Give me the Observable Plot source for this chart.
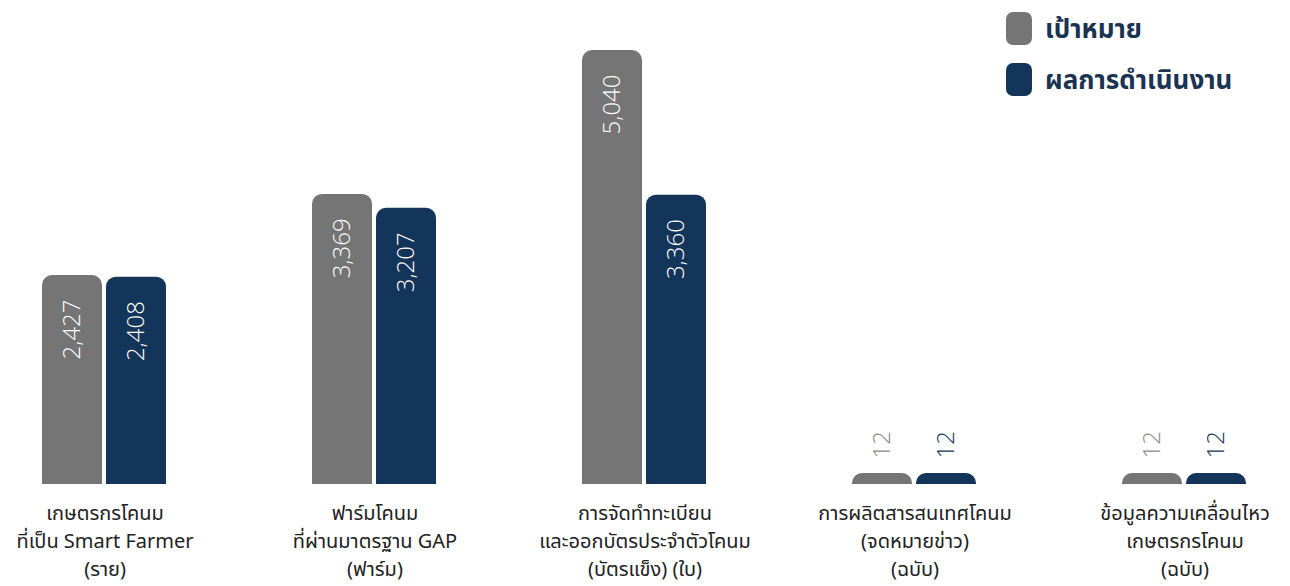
<!DOCTYPE html>
<html><head><meta charset="utf-8">
<script src="https://cdn.jsdelivr.net/npm/d3@7"></script>
<script src="https://cdn.jsdelivr.net/npm/@observablehq/plot@0.6"></script>
<style>
body{margin:0;background:#fff;}
#wrap{position:relative;width:1290px;height:586px;overflow:hidden;}
.lg{position:absolute;left:1006px;display:flex;align-items:center;font-family:"Noto Sans Thai","Noto Sans",sans-serif;font-weight:700;font-size:26px;color:#1b3352;white-space:nowrap;}
.lg .sw{width:26px;height:33px;border-radius:7px;margin-right:13px;}
.lg span{position:relative;top:2px;}
</style></head><body><div id="wrap"></div>
<script>
const categories = [
  "เกษตรกรโคนม\nที่เป็น Smart Farmer\n(ราย)",
  "ฟาร์มโคนม\nที่ผ่านมาตรฐาน GAP\n(ฟาร์ม)",
  "การจัดทำทะเบียน\nและออกบัตรประจำตัวโคนม\n(บัตรแข็ง) (ใบ)",
  "การผลิตสารสนเทศโคนม\n(จดหมายข่าว)\n(ฉบับ)",
  "ข้อมูลความเคลื่อนไหว\nเกษตรกรโคนม\n(ฉบับ)"
];
const series = ["เป้าหมาย", "ผลการดำเนินงาน"];
const targetValues = [2427, 3369, 5040, 12, 12];
const actualValues = [2408, 3207, 3360, 12, 12];
const colors = ["#757575", "#14355A"];
const smallLabelColors = ["#8c8c8c", "#14355A"];

const data = categories.flatMap((c, i) => [
  {category: c, series: series[0], value: targetValues[i]},
  {category: c, series: series[1], value: actualValues[i]}
]);

const minBarPx = 11, radius = 10;
function roundTop(index, scales, values, dims, ctx, next) {
  const g = next(index, scales, values, dims, ctx);
  for (const r of Array.from(g.querySelectorAll("rect"))) {
    const x = +r.getAttribute("x"), y = +r.getAttribute("y"),
          w = +r.getAttribute("width"), h = +r.getAttribute("height");
    const hh = Math.max(h, minBarPx), yy = y + h - hh, rr = Math.min(radius, hh, w / 2);
    const p = document.createElementNS("http://www.w3.org/2000/svg", "path");
    p.setAttribute("d", `M${x},${yy + hh}V${yy + rr}A${rr},${rr} 0 0 1 ${x + rr},${yy}H${x + w - rr}A${rr},${rr} 0 0 1 ${x + w},${yy + rr}V${yy + hh}Z`);
    if (r.hasAttribute("fill")) p.setAttribute("fill", r.getAttribute("fill"));
    r.replaceWith(p);
  }
  return g;
}

const fmt = d3.format(",");
const threshold = 500;
const valueFont = "'Open Sans', Roboto, sans-serif";

const chart = Plot.plot({
  width: 1290, height: 586,
  marginTop: 50, marginBottom: 102, marginLeft: 0, marginRight: 2,
  style: {fontFamily: "'Noto Sans Thai','Noto Sans',sans-serif", background: "white", color: "#222"},
  fx: {domain: categories, paddingInner: 0.5, paddingOuter: 0.1308, label: null},
  x: {domain: series, paddingInner: 0.06, paddingOuter: 0.07, axis: null},
  y: {domain: [0, 5040], axis: null},
  color: {domain: series, range: colors},
  marks: [
    Plot.barY(data, {fx: "category", x: "series", y: "value", fill: "series", render: roundTop}),
    Plot.text(data.filter(d => d.value >= threshold), {
      fx: "category", x: "series", y: "value", text: d => fmt(d.value),
      rotate: -90, textAnchor: "end", dy: 24, fill: "white",
      fontSize: 24, fontWeight: 300, fontFamily: valueFont
    }),
    ...series.map((s, k) => Plot.text(data.filter(d => d.value < threshold && d.series === s), {
      fx: "category", x: "series", y: "value", text: d => fmt(d.value),
      rotate: -90, textAnchor: "start", dy: -25, fill: smallLabelColors[k],
      fontSize: 24, fontWeight: 300, fontFamily: valueFont
    })),
    Plot.axisFx({anchor: "bottom", tickSize: 0, tickPadding: 16, fontSize: 20, lineHeight: 1.4, label: null, fill: "#222"})
  ]
});

const wrap = document.getElementById("wrap");
wrap.appendChild(chart);
series.forEach((s, k) => {
  const el = document.createElement("div");
  el.className = "lg";
  el.style.top = (8 + k * 51) + "px";
  el.innerHTML = `<div class="sw" style="background:${colors[k]}"></div><span>${s}</span>`;
  wrap.appendChild(el);
});
</script>
</body></html>
